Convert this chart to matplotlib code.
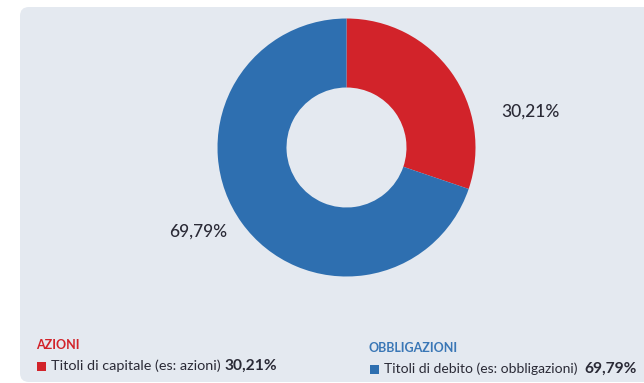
import matplotlib.pyplot as plt
from matplotlib.patches import FancyBboxPatch

# data
categories = ["Titoli di capitale (es: azioni)", "Titoli di debito (es: obbligazioni)"]
groups = ["AZIONI", "OBBLIGAZIONI"]
values = [30.21, 69.79]
colors = ["#d2232a", "#2e6fb0"]
header_colors = ["#d2232a", "#3a77b6"]

W, H = 644, 383
BG = "#e4e9f0"
TXT = "#2a2a36"
FONT = ["Lato", "DejaVu Sans"]


def fmt(v):
    return f"{v:.2f}".replace(".", ",") + "%"


fig = plt.figure(figsize=(W / 100, H / 100), dpi=100)
ax = fig.add_axes([0, 0, 1, 1])

panel = FancyBboxPatch(
    (20, 1), 660, 375,
    boxstyle="round,pad=0,rounding_size=9",
    facecolor=BG, edgecolor="none", zorder=0,
)
ax.add_patch(panel)

cx, cy, r = 346.5, H - 147.5, 129
wedges, _ = ax.pie(
    values,
    colors=colors,
    startangle=90,
    counterclock=False,
    center=(cx, cy),
    radius=r,
    wedgeprops=dict(width=r - 60, edgecolor="none"),
)
for w in wedges:
    w.set_zorder(2)

ax.set_xlim(0, W)
ax.set_ylim(0, H)
ax.set_aspect("auto")
ax.axis("off")

# value labels
ax.text(530, H - 112, fmt(values[0]), ha="center", va="center",
        fontsize=12.5, color=TXT, family=FONT, fontweight="medium")
ax.text(198, H - 232, fmt(values[1]), ha="center", va="center",
        fontsize=12.5, color=TXT, family=FONT, fontweight="medium")

# legend blocks
legend_pos = [(37, 345, 366, 10.4, " "), (370, 348, 369, 10.0, "  ")]
for (x, yh, yt, fs, gap), grp, cat, val, col, hcol in zip(
        legend_pos, groups, categories, values, colors, header_colors):
    ax.text(x - 1, H - yh, grp, ha="left", va="center", fontsize=9,
            fontweight="bold", color=hcol, family=FONT)
    ax.add_patch(plt.Rectangle((x, H - yt - 4.5), 9, 9, facecolor=col,
                               edgecolor="none", zorder=3))
    t = ax.text(x + 14, H - yt, cat + gap, ha="left", va="center",
                fontsize=fs, color=TXT, family=FONT)
    ax.annotate(fmt(val), xy=(1, 0.5), xycoords=t, ha="left", va="center",
                fontsize=11.2, fontweight="bold", color=TXT, family=FONT)

fig.savefig("out.png", dpi=100, facecolor="white")
